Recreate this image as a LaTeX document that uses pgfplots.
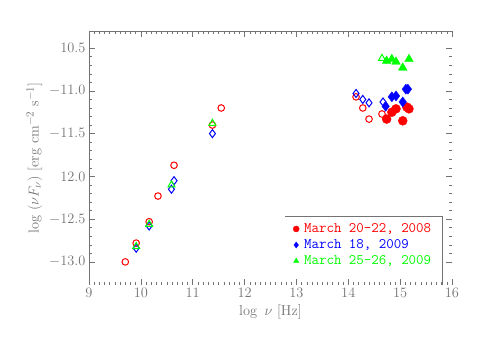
\documentclass[border=0pt]{standalone}
\usepackage{pgfplots}
\pgfplotsset{compat=1.18}
\definecolor{axgray}{gray}{0.45}
\definecolor{ptred}{rgb}{1,0,0}
\definecolor{ptblue}{rgb}{0,0,1}
\definecolor{ptgreen}{rgb}{0,1,0}
\begin{document}
\begin{tikzpicture}[x=1pt,y=1pt]
\path[use as bounding box] (0,0) rectangle (480,343);
\begin{axis}[
    at={(89pt,58pt)}, anchor=south west,
    scale only axis,
    width=363pt, height=254pt,
    xmin=9, xmax=16, ymin=-13.27, ymax=-10.30,
    xtick={9,10,...,16},
    minor x tick num=9,
    ytick={-13,-12.5,...,-10.5},
    yticklabels={$-13.0$,$-12.5$,$12.0$,$-11.5$,$-11.0$,$10.5$},
    minor y tick num=4,
    major tick length=6pt, minor tick length=3pt,
    every tick/.style={axgray, line width=0.5pt},
    axis line style={draw=none},
    tick label style={font=\fontsize{15}{18}\selectfont, text=axgray},
    label style={font=\fontsize{15.5}{18}\selectfont, text=axgray},
    xlabel={$\log\ \nu\ [\mathrm{Hz}]$},
    ylabel={$\log\ (\nu F_{\nu})\ [\mathrm{erg\ cm^{-2}\ s^{-1}}]$},
    legend style={at={(rel axis cs:0.562,0.25)}, anchor=north west,
        draw=none, fill=none, inner sep=0pt, row sep=1.5pt, column sep=3pt,
        font=\fontsize{14.5}{16}\selectfont\ttfamily},
    legend cell align=left,
    legend image post style={mark size=3pt},
]
% axis frame: left and top only, as in the reference
\draw[axgray, line width=0.6pt] (rel axis cs:0,0) -- (rel axis cs:0,1) -- (rel axis cs:1,1);
% legend box
\draw[axgray, line width=0.6pt] (rel axis cs:0.54,0.272) -- (rel axis cs:0.972,0.272) -- (rel axis cs:0.972,0);

% open symbols
\addplot[only marks, mark=o, ptred, mark size=3.3pt, line width=1pt, forget plot] table {
9.70 -13.00
9.91 -12.78
10.16 -12.53
10.33 -12.23
10.64 -11.87
11.38 -11.40
11.55 -11.20
14.15 -11.07
14.28 -11.20
14.40 -11.33
14.65 -11.27
};
\addplot[only marks, mark=diamond, ptblue, mark size=4pt, line width=1pt, forget plot] table {
9.91 -12.84
10.16 -12.58
10.59 -12.15
10.64 -12.05
11.38 -11.50
14.15 -11.03
14.28 -11.10
14.40 -11.14
14.67 -11.13
};
\addplot[only marks, mark=triangle, ptgreen, mark size=4pt, line width=1pt, forget plot] table {
9.91 -12.82
10.16 -12.56
10.59 -12.10
11.38 -11.38
14.65 -10.62
};

% filled symbols
\addplot[only marks, mark=*, ptred, mark options={fill=ptred}, mark size=4.5pt] table {
14.74 -11.33
14.84 -11.25
14.92 -11.21
15.05 -11.35
15.13 -11.19
15.17 -11.21
};
\addlegendentry{\textcolor{ptred}{March 20-22, 2008}}
\addplot[only marks, mark=diamond*, ptblue, mark options={fill=ptblue}, mark size=5pt] table {
14.72 -11.18
14.84 -11.07
14.92 -11.06
15.05 -11.13
15.11 -10.98
15.15 -10.98
};
\addlegendentry{\textcolor{ptblue}{March 18, 2009}}
\addplot[only marks, mark=triangle*, ptgreen, mark options={fill=ptgreen}, mark size=5pt] table {
14.74 -10.65
14.84 -10.63
14.92 -10.66
15.05 -10.73
15.17 -10.63
};
\addlegendentry{\textcolor{ptgreen}{March 25-26, 2009}}
\end{axis}
\end{tikzpicture}
\end{document}
